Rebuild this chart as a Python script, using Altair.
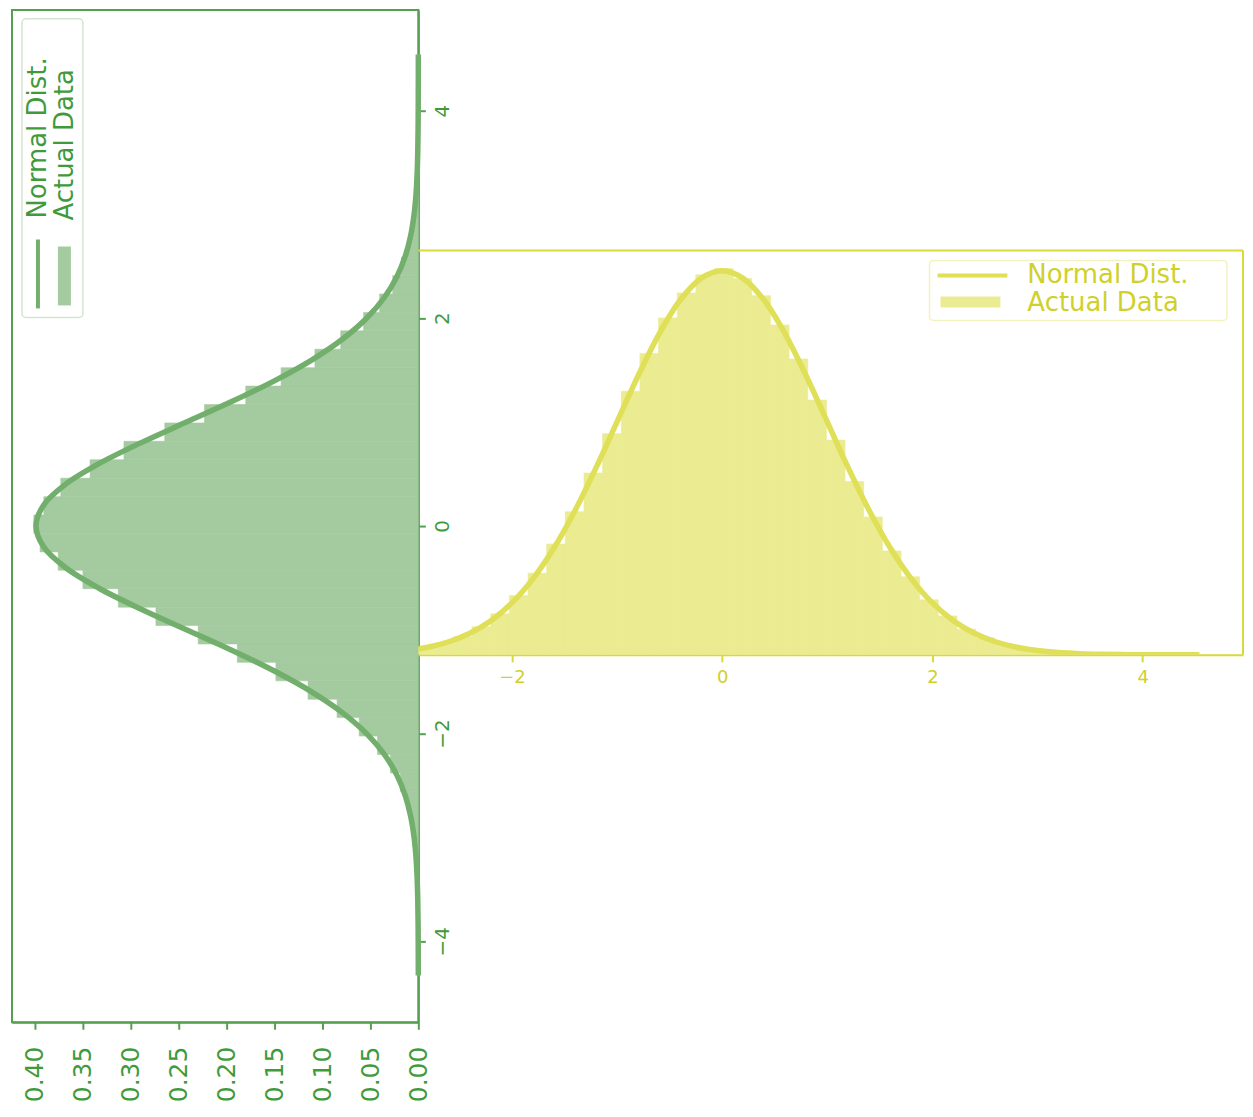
import altair as alt
import pandas as pd

# ---------------- data ----------------
bin_edges = [-4.330, -4.153, -3.975, -3.798, -3.620, -3.443, -3.266, -3.088, -2.911, -2.733,
             -2.556, -2.379, -2.201, -2.024, -1.846, -1.669, -1.492, -1.314, -1.137, -0.959,
             -0.782, -0.605, -0.427, -0.250, -0.072, 0.105, 0.282, 0.460, 0.637, 0.815,
             0.992, 1.169, 1.347, 1.524, 1.702, 1.879, 2.056, 2.234, 2.411, 2.589,
             2.766, 2.943, 3.121, 3.298, 3.476, 3.653, 3.830, 4.008, 4.185, 4.363, 4.540]
hist_density = [0.0001, 0.0001, 0.0002, 0.0004, 0.0008, 0.0015, 0.0025, 0.0045, 0.0073, 0.0122,
                0.0188, 0.0292, 0.0426, 0.0617, 0.0848, 0.1151, 0.1486, 0.1889, 0.2297, 0.2738,
                0.3131, 0.3500, 0.3758, 0.3947, 0.4012, 0.3908, 0.3731, 0.3425, 0.3072, 0.2646,
                0.2231, 0.1801, 0.1432, 0.1079, 0.0810, 0.0571, 0.0404, 0.0267, 0.0177, 0.0110,
                0.0068, 0.0041, 0.0023, 0.0013, 0.0007, 0.0004, 0.0002, 0.0001, 0.0001, 0.0001]
curve_x = [-4.33, -4.2, -4.0, -3.8, -3.6, -3.4, -3.2, -3.0, -2.8, -2.6, -2.4, -2.2, -2.0,
           -1.8, -1.6, -1.4, -1.2, -1.0, -0.8, -0.6, -0.4, -0.2, 0.0, 0.2, 0.4, 0.6, 0.8,
           1.0, 1.2, 1.4, 1.6, 1.8, 2.0, 2.2, 2.4, 2.6, 2.8, 3.0, 3.2, 3.4, 3.6, 3.8, 4.0,
           4.2, 4.4, 4.54]
curve_pdf = [0.00003, 0.00006, 0.00013, 0.00029, 0.00061, 0.00123, 0.00238, 0.00443, 0.00792,
             0.01358, 0.02239, 0.03547, 0.05399, 0.07895, 0.11092, 0.14973, 0.19419, 0.24197,
             0.28969, 0.33322, 0.36827, 0.39104, 0.39894, 0.39104, 0.36827, 0.33322, 0.28969,
             0.24197, 0.19419, 0.14973, 0.11092, 0.07895, 0.05399, 0.03547, 0.02239, 0.01358,
             0.00792, 0.00443, 0.00238, 0.00123, 0.00061, 0.00029, 0.00013, 0.00006, 0.00002,
             0.00001]
density_ticks = [0.0, 0.05, 0.10, 0.15, 0.20, 0.25, 0.30, 0.35, 0.40]
left_value_ticks = [-4, -2, 0, 2, 4]
right_value_ticks = [-2, 0, 2, 4]
legend_labels = ["Normal Dist.", "Actual Data"]

hist_df = pd.DataFrame({"start": bin_edges[:-1], "end": bin_edges[1:], "density": hist_density})
curve_df = pd.DataFrame({"x": curve_x, "pdf": curve_pdf})
one_row = pd.DataFrame({"k": [0]})

FONT = "DejaVu Sans"
GREEN_FILL = "#A4CA9F"
GREEN_LINE = "#72AE6C"
GREEN_AXIS = "#55A050"
GREEN_TEXT = "#3F9A3C"
GREEN_LEG = "#D3E6D1"
YEL_FILL = "#EBEB91"
YEL_LINE = "#DFDF58"
YEL_AXIS = "#D9D93A"
YEL_TEXT = "#D0D02A"
YEL_LEG = "#F2F2C0"

LW, LH = 407, 1014
RW, RH = 826, 405
LEG_FS = 26

# ---------------- left (rotated) panel ----------------
lx = alt.Scale(domain=[0, 0.424], reverse=True, nice=False, zero=False)
ly = alt.Scale(domain=[-4.78, 4.97], nice=False, zero=False)
lx_axis = alt.Axis(values=density_ticks, format=".2f", labelAngle=270, labelAlign="right",
                   labelBaseline="middle", labelFontSize=25, labelColor=GREEN_TEXT,
                   tickColor=GREEN_AXIS, domainColor=GREEN_AXIS, tickSize=7, tickWidth=2,
                   domainWidth=2, labelPadding=17, grid=False, title=None, labelOverlap=False)
ly_axis = alt.Axis(orient="right", values=left_value_ticks, format="d", labelAngle=270,
                   labelAlign="center", labelBaseline="top", labelFontSize=20,
                   labelColor=GREEN_TEXT, tickColor=GREEN_AXIS, domainColor=GREEN_AXIS,
                   tickSize=7, tickWidth=2, domainWidth=2, labelPadding=7, grid=False,
                   title=None, labelOverlap=False)

left_hist = alt.Chart(hist_df).mark_rect(color=GREEN_FILL, stroke=GREEN_FILL, strokeWidth=0.6).encode(
    x=alt.X("density:Q", scale=lx, axis=lx_axis),
    x2=alt.datum(0),
    y=alt.Y("start:Q", scale=ly, axis=ly_axis),
    y2="end:Q",
)
left_line = alt.Chart(curve_df).mark_line(color=GREEN_LINE, strokeWidth=5.5,
                                          interpolate="catmull-rom").encode(
    x=alt.X("pdf:Q", scale=lx, axis=lx_axis),
    y=alt.Y("x:Q", scale=ly, axis=ly_axis),
    order="x:Q",
)
left_box = alt.Chart(one_row).mark_rect(fill="white", fillOpacity=0.8, stroke=GREEN_LEG,
                                        strokeWidth=1.5, cornerRadius=4).encode(
    x=alt.value(10), x2=alt.value(71), y=alt.value(9), y2=alt.value(308))
left_leg_line = alt.Chart(one_row).mark_rule(color=GREEN_LINE, strokeWidth=4).encode(
    x=alt.value(26), y=alt.value(230), y2=alt.value(299))
left_leg_rect = alt.Chart(one_row).mark_rect(color=GREEN_FILL).encode(
    x=alt.value(46), x2=alt.value(59), y=alt.value(237), y2=alt.value(296))
left_leg_t1 = alt.Chart(one_row).mark_text(text=legend_labels[0], angle=270, align="left",
                                           baseline="middle", fontSize=LEG_FS, font=FONT,
                                           color=GREEN_TEXT).encode(
    x=alt.value(26), y=alt.value(209))
left_leg_t2 = alt.Chart(one_row).mark_text(text=legend_labels[1], angle=270, align="left",
                                           baseline="middle", fontSize=LEG_FS, font=FONT,
                                           color=GREEN_TEXT).encode(
    x=alt.value(53), y=alt.value(211))

left = alt.layer(left_hist, left_line, left_box, left_leg_line, left_leg_rect,
                 left_leg_t1, left_leg_t2).properties(
    width=LW, height=LH, view={"stroke": GREEN_AXIS, "strokeWidth": 2})

# ---------------- right panel ----------------
rx = alt.Scale(domain=[-2.89, 4.955], nice=False, zero=False)
ry = alt.Scale(domain=[0, 0.42], nice=False, zero=False)
rx_axis = alt.Axis(values=right_value_ticks, format="d", labelFontSize=18, labelColor=YEL_TEXT,
                   tickColor=YEL_AXIS, domainColor=YEL_AXIS, tickSize=7, tickWidth=2,
                   domainWidth=2, labelPadding=7, grid=False, title=None)

right_hist = alt.Chart(hist_df).mark_rect(color=YEL_FILL, stroke=YEL_FILL, strokeWidth=0.6,
                                          clip=True).encode(
    x=alt.X("start:Q", scale=rx, axis=rx_axis),
    x2="end:Q",
    y=alt.Y("density:Q", scale=ry, axis=None),
    y2=alt.datum(0),
)
right_line = alt.Chart(curve_df).mark_line(color=YEL_LINE, strokeWidth=5.5,
                                           interpolate="catmull-rom", clip=True).encode(
    x=alt.X("x:Q", scale=rx, axis=rx_axis),
    y=alt.Y("pdf:Q", scale=ry, axis=None),
)
right_top = alt.Chart(one_row).mark_rule(color=YEL_AXIS, strokeWidth=2).encode(
    x=alt.value(0), x2=alt.value(RW), y=alt.value(0))
right_side = alt.Chart(one_row).mark_rule(color=YEL_AXIS, strokeWidth=2).encode(
    x=alt.value(RW), y=alt.value(0), y2=alt.value(RH))
right_box = alt.Chart(one_row).mark_rect(fill="white", fillOpacity=0.8, stroke=YEL_LEG,
                                         strokeWidth=1.5, cornerRadius=4).encode(
    x=alt.value(512), x2=alt.value(810), y=alt.value(10), y2=alt.value(70))
right_leg_line = alt.Chart(one_row).mark_rule(color=YEL_LINE, strokeWidth=4).encode(
    x=alt.value(520), x2=alt.value(590), y=alt.value(25))
right_leg_rect = alt.Chart(one_row).mark_rect(color=YEL_FILL).encode(
    x=alt.value(523), x2=alt.value(583), y=alt.value(46), y2=alt.value(57))
right_leg_t1 = alt.Chart(one_row).mark_text(text=legend_labels[0], align="left",
                                            baseline="middle", fontSize=LEG_FS, font=FONT,
                                            color=YEL_TEXT).encode(
    x=alt.value(610), y=alt.value(25))
right_leg_t2 = alt.Chart(one_row).mark_text(text=legend_labels[1], align="left",
                                            baseline="middle", fontSize=LEG_FS, font=FONT,
                                            color=YEL_TEXT).encode(
    x=alt.value(610), y=alt.value(53))

right = alt.layer(right_hist, right_line, right_top, right_side, right_box, right_leg_line,
                  right_leg_rect, right_leg_t1, right_leg_t2).properties(
    width=RW, height=RH, view={"stroke": "transparent"})

spacer = alt.Chart(one_row).mark_point(opacity=0, size=1).encode(
    x=alt.value(10), y=alt.value(100)).properties(width=RW, height=241,
                                                   view={"stroke": "transparent"})

right_col = alt.vconcat(spacer, right, spacing=0, bounds="flush")

chart = alt.hconcat(left, right_col, spacing=0, bounds="flush").properties(
    padding={"left": 3, "top": 0, "right": 0, "bottom": 0}
).configure(font=FONT)

chart.save("out.html", embed_options={"renderer": "svg", "actions": False})
